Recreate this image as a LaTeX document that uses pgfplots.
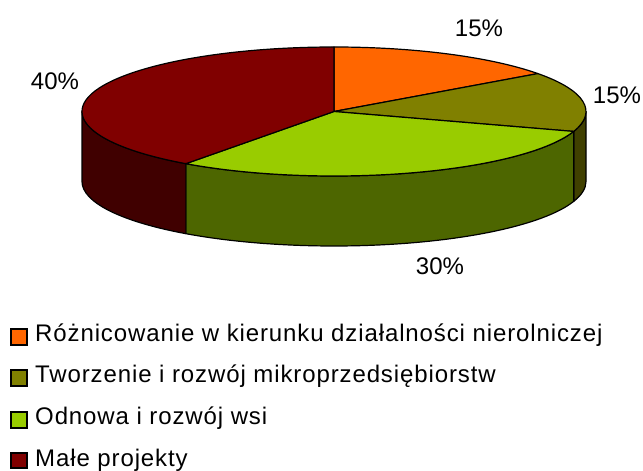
\documentclass[border=0pt]{standalone}
\usepackage{pgfplots}
\pgfplotsset{compat=1.18}
\usepackage{pgfplotstable}
\usepackage{fontspec}
\setmainfont{Liberation Sans}
\newfontfamily\legfont[LetterSpace=3.7]{Liberation Sans}
\definecolor{cOrangeT}{HTML}{FF6600}
\definecolor{cOrangeS}{HTML}{803300}
\definecolor{cOliveT}{HTML}{808000}
\definecolor{cOliveS}{HTML}{404000}
\definecolor{cGreenT}{HTML}{99CC00}
\definecolor{cGreenS}{HTML}{4D6600}
\definecolor{cRedT}{HTML}{800000}
\definecolor{cRedS}{HTML}{400000}

\pgfplotstableread[col sep=comma]{
value,top,side
15,cOrangeT,cOrangeS
15,cOliveT,cOliveS
30,cGreenT,cGreenS
40,cRedT,cRedS
}\piedata

% geometry of the pie (in bp, picture is 643 x 471 bp)
\def\cx{334}
\def\cy{359.5}
\def\rx{252}
\def\ry{64.5}
\def\dep{70}

\newcommand\sideface[3]{%
  \pgfmathsetmacro\lo{max(#2,-180)}%
  \pgfmathsetmacro\hi{min(#1,0)}%
  \pgfmathparse{\hi>\lo?1:0}%
  \ifnum\pgfmathresult=1
    \edef\tmp{\noexpand\filldraw[fill=#3,draw=black,line width=1.2bp,line join=round]
      (axis cs:\cx,\cy) ++(\hi:\rx bp and \ry bp)
      arc[start angle=\hi,end angle=\lo,x radius=\rx bp,y radius=\ry bp]
      -- ++(0bp,-\dep bp)
      arc[start angle=\lo,end angle=\hi,x radius=\rx bp,y radius=\ry bp] -- cycle;}%
    \tmp
  \fi}
\newcommand\topface[3]{%
  \edef\tmp{\noexpand\filldraw[fill=#3,draw=black,line width=1.2bp,line join=round]
    (axis cs:\cx,\cy) -- ++(#1:\rx bp and \ry bp)
    arc[start angle=#1,end angle=#2,x radius=\rx bp,y radius=\ry bp] -- cycle;}%
  \tmp}

\begin{document}
\pgfplotstablegetelem{0}{value}\of\piedata \edef\vA{\pgfplotsretval}%
\pgfplotstablegetelem{1}{value}\of\piedata \edef\vB{\pgfplotsretval}%
\pgfplotstablegetelem{2}{value}\of\piedata \edef\vC{\pgfplotsretval}%
\pgfplotstablegetelem{3}{value}\of\piedata \edef\vD{\pgfplotsretval}%
\pgfplotstablegetelem{0}{top}\of\piedata \edef\tA{\pgfplotsretval}%
\pgfplotstablegetelem{1}{top}\of\piedata \edef\tB{\pgfplotsretval}%
\pgfplotstablegetelem{2}{top}\of\piedata \edef\tC{\pgfplotsretval}%
\pgfplotstablegetelem{3}{top}\of\piedata \edef\tD{\pgfplotsretval}%
\pgfplotstablegetelem{0}{side}\of\piedata \edef\sA{\pgfplotsretval}%
\pgfplotstablegetelem{1}{side}\of\piedata \edef\sB{\pgfplotsretval}%
\pgfplotstablegetelem{2}{side}\of\piedata \edef\sC{\pgfplotsretval}%
\pgfplotstablegetelem{3}{side}\of\piedata \edef\sD{\pgfplotsretval}%
\pgfmathsetmacro\aA{90}%
\pgfmathsetmacro\bA{\aA-3.6*\vA}%
\pgfmathsetmacro\bB{\bA-3.6*\vB}%
\pgfmathsetmacro\bC{\bB-3.6*\vC}%
\pgfmathsetmacro\bD{\bC-3.6*\vD}%
\begin{tikzpicture}
\begin{axis}[
  hide axis, scale only axis,
  width=643bp, height=471bp,
  xmin=0, xmax=643, ymin=0, ymax=471,
  clip=false,
]
\addplot[draw=none] coordinates {(0,0) (643,471)};
% side faces
\sideface{\aA}{\bA}{\sA}
\sideface{\bA}{\bB}{\sB}
\sideface{\bB}{\bC}{\sC}
\sideface{\bC}{\bD}{\sD}
% top faces
\topface{\aA}{\bA}{\tA}
\topface{\bA}{\bB}{\tB}
\topface{\bB}{\bC}{\tC}
\topface{\bC}{\bD}{\tD}
% percentage labels
\node[font=\fontsize{24bp}{28bp}\selectfont, inner sep=0pt] at (axis cs:479,443) {\vA\%};
\node[font=\fontsize{24bp}{28bp}\selectfont, inner sep=0pt] at (axis cs:617,376) {\vB\%};
\node[font=\fontsize{24bp}{28bp}\selectfont, inner sep=0pt] at (axis cs:440,205) {\vC\%};
\node[font=\fontsize{24bp}{28bp}\selectfont, inner sep=0pt] at (axis cs:55,390) {\vD\%};
% legend
\filldraw[fill=\tA, draw=black, line width=1.2bp] (axis cs:11,126) rectangle (axis cs:27,142);
\filldraw[fill=\tB, draw=black, line width=1.2bp] (axis cs:11,85) rectangle (axis cs:27,101);
\filldraw[fill=\tC, draw=black, line width=1.2bp] (axis cs:11,43) rectangle (axis cs:27,59);
\filldraw[fill=\tD, draw=black, line width=1.2bp] (axis cs:11,3) rectangle (axis cs:27,18);
\node[anchor=base west, inner sep=0pt, font=\legfont\fontsize{24bp}{28bp}\selectfont] at (axis cs:35,129) {Różnicowanie w kierunku działalności nierolniczej};
\node[anchor=base west, inner sep=0pt, font=\legfont\fontsize{24bp}{28bp}\selectfont] at (axis cs:35,88) {Tworzenie i rozwój mikroprzedsiębiorstw};
\node[anchor=base west, inner sep=0pt, font=\legfont\fontsize{24bp}{28bp}\selectfont] at (axis cs:35,46) {Odnowa i rozwój wsi};
\node[anchor=base west, inner sep=0pt, font=\legfont\fontsize{24bp}{28bp}\selectfont] at (axis cs:35,5) {Małe projekty};
\end{axis}
\end{tikzpicture}
\end{document}
